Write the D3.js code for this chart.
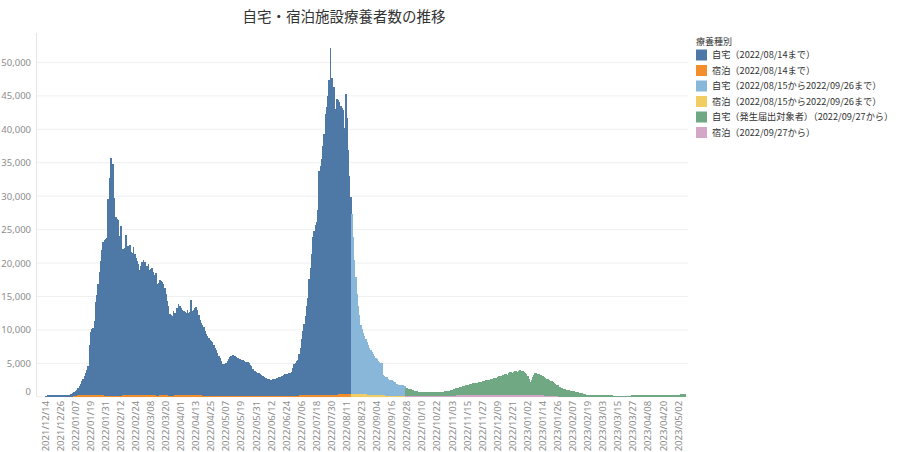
<!DOCTYPE html>
<html><head><meta charset="utf-8">
<script src="https://cdn.jsdelivr.net/npm/d3@7"></script>
<style>body{margin:0;background:#fff}svg{display:block}</style>
</head><body>
<svg id="c" width="900" height="452"></svg>
<script>
const chartTitle = "自宅・宿泊施設療養者数の推移";
const legendTitle = "療養種別";
const startDate = "2021/12/14";
const seriesKeys = ["hotelA","homeA","hotelB","homeB","hotelC","homeC"];
const legendKeys = ["homeA","hotelA","homeB","hotelB","homeC","hotelC"];
const seriesNames = {
  homeA: "自宅（2022/08/14まで）",
  hotelA: "宿泊（2022/08/14まで）",
  homeB: "自宅（2022/08/15から2022/09/26まで）",
  hotelB: "宿泊（2022/08/15から2022/09/26まで）",
  homeC: "自宅（発生届出対象者）（2022/09/27から）",
  hotelC: "宿泊（2022/09/27から）"
};
const seriesColors = {
  homeA: "#4e79a7", hotelA: "#f28e2b", homeB: "#88b7da",
  hotelB: "#f1ce63", homeC: "#70a883", hotelC: "#d4a6c8"
};
const yTicks = [0,5000,10000,15000,20000,25000,30000,35000,40000,45000,50000];
const tickLabels = ["2021/12/14","2021/12/26","2022/01/07","2022/01/19","2022/01/31","2022/02/12","2022/02/24","2022/03/08","2022/03/20","2022/04/01","2022/04/13","2022/04/25","2022/05/07","2022/05/19","2022/05/31","2022/06/12","2022/06/24","2022/07/06","2022/07/18","2022/07/30","2022/08/11","2022/08/23","2022/09/04","2022/09/16","2022/09/28","2022/10/10","2022/10/22","2022/11/03","2022/11/15","2022/11/27","2022/12/09","2022/12/21","2023/01/02","2023/01/14","2023/01/26","2023/02/07","2023/02/19","2023/03/03","2023/03/15","2023/03/27","2023/04/08","2023/04/20","2023/05/02"];

// 2021/12/14 - 2022/08/14
const homeA = [
170,170,175,180,180,185,190,190,195,200,
200,205,210,215,220,225,230,235,250,280,
320,380,450,560,700,850,1100,1350,1600,2000,
2400,2800,3200,3700,4300,7400,9400,9800,10000,11000,
13900,14900,16600,18400,20000,21600,23000,23200,23400,23500,
29400,32500,35600,33700,34600,29600,26700,26400,26200,23800,
25400,21800,21900,22000,23800,22000,22200,22300,21300,21100,
22000,21000,20400,20000,19600,18700,19300,19800,20200,19800,
19300,19200,19500,18700,18800,19000,18300,17900,18200,16700,
16900,17200,17000,16900,16500,15900,15000,14200,13400,12200,
12000,11900,12700,12300,12000,12900,13500,13200,12900,12700,
12500,12400,12200,12600,12200,12300,14100,12500,12700,13000,
13200,12700,12000,11300,10900,10500,10200,9700,9300,9000,
8600,8300,8200,8000,7600,7200,6800,6400,6000,5700,
5200,4800,4700,4700,4900,5200,5500,5800,6000,6100,
6000,5950,5800,5600,5500,5450,5350,5300,5200,5100,
5050,5000,4850,4650,4500,4000,3750,3650,3550,3450,
3350,3200,3100,2950,2800,2700,2600,2550,2500,2400,
2350,2450,2500,2450,2600,2700,2800,2850,2900,3000,
3100,3200,3250,3300,3350,3450,3550,4200,4700,4900,
5100,5300,6200,7100,8400,9500,10600,11800,13200,14500,
17300,19000,21000,23500,24500,25400,25800,27700,33500,34200,
35200,37200,39000,42000,43000,44600,47000,51800,47400,42600,
46000,42700,44200,44000,43600,43000,42700,42400,39800,44800,
41300,36400,32600,29400];
const hotelA = [
20,20,20,20,20,25,25,25,25,25,25,25,30,30,30,30,30,30,30,35,35,40,60,
150,190,230,260,290,310,320,330,330,340,340,330,330,340,350,340,330,330,320,320,310,300,280,
200,190,190,180,180,180,175,175,170,170,170,170,175,180,190,200,220,
320,330,330,330,340,340,330,330,330,330,330,330,330,320,320,320,320,320,310,300,
300,300,300,300,290,280,
190,180,
310,320,320,320,310,300,
200,180,180,170,170,180,200,
320,330,330,330,330,330,330,330,330,330,330,330,320,320,320,310,300,280,
240,220,200,190,180,170,160,160,150,150,
150,150,150,150,145,145,145,140,140,140,
140,140,140,140,140,140,140,140,140,140,
140,140,140,140,140,140,140,140,140,140,
140,140,140,140,140,140,140,140,140,140,
140,140,140,140,140,140,140,140,140,140,
140,140,140,140,145,145,145,150,150,150,
150,155,155,160,160,165,170,175,180,190,
200,220,240,270,
300,310,320,330,330,330,330,330,330,320,300,
230,220,
320,330,330,330,340,340,340,340,340,340,340,340,340,340,350,
420,430,430,440,440,440,440,440,430,420];
// 2022/08/15 - 2022/09/26
const homeB = [
27000,23500,20000,17500,15000,13200,11900,10400,9700,9200,
8700,8300,7800,7400,7000,6700,6400,6100,5800,5500,
5300,5050,4900,4800,4750,3000,2900,2800,2700,2500,
2400,2350,2300,2250,2000,1800,1700,1650,1600,1600,
1580,1550,1500];
const hotelB = [
400,400,400,390,390,380,380,370,370,360,360,350,350,340,340,330,320,
300,290,280,280,270,260,260,250,
200,200,190,190,190,180,180,180,180,170,170,170,170,160,160,160,160,160];
// 2022/09/27 - 2023/05/08
const homeC = [
1150,1100,1050,1000,950,900,820,760,720,680,
640,600,580,560,540,530,520,520,510,520,
530,520,510,520,530,520,520,530,550,570,
600,630,660,690,720,760,820,880,950,1020,
1080,1130,1180,1250,1300,1340,1380,1450,1520,1580,
1620,1680,1720,1780,1820,1750,1850,1900,1950,2000,
2050,2100,2050,2150,2200,2250,2300,2280,2350,2450,
2500,2600,2550,2700,2800,2850,2800,2950,3050,3100,
3200,3050,3300,3400,3450,3350,3500,3550,3600,3500,
3650,3700,3650,3550,3500,3350,3150,2800,2400,1950,
2300,2700,3100,3350,3300,3200,3150,3100,3000,2900,
2800,2650,2550,2450,2350,2250,2150,2000,1900,1800,
1700,1600,1500,1400,1300,1200,1150,1100,1050,1000,
950,900,860,820,780,740,680,620,580,540,
480,430,380,340,300,280,260,240,230,220,
210,200,200,
195,190,190,185,185,180,180,175,175,170,170,170,165,165,160,160,160,155,
140,130,120,120,110,110,120,130,140,
180,200,210,220,230,230,240,240,245,250,
250,250,255,255,260,260,260,260,265,265,
265,270,270,270,270,275,275,275,280,280,
280,285,285,290,290,295,300,300,310,
340,390,420,380,330];
const hotelC = [
160,160,155,155,150,150,150,150,150,150,
150,150,150,150,150,150,150,150,150,150,
150,150,150,150,150,150,150,155,155,160,
160,165,170,170,175,180,180,185,190,190,
195,195,200,200,
200,205,205,210,210,210,215,215,220,220,
220,225,225,230,230,230,235,235,240,240,
240,240,245,245,250,250,250,250,255,255,
255,260,260,260,260,260,260,260,260,260,
260,260,260,260,255,255,255,250,250,250,
250,245,245,240,240,235,235,230,230,225,
225,220,215,210,205,200,195,190,185,180,
175,170,160,150,140,130,120,110,
40,38,36,35,34,33,32,32,31,31,
30,30,30,30,30,30,30,30,30,30,
28,28,28,28,28,28,28,28,28,28,
26,26,26,26,26,26,26,26,26,26,
25,25,25,25,25,25,25,25,25,25,
24,24,24,24,24,24,24,24,24,24,
22,22,22,22,22,22,22,22,22,22,
20,20,20,20,20,20,20,20,20,20,
20,20,20,20,20,20,20,20,20,20,
18,18,18,18,18,18,18,18,18,18,
18,18];

const segments = [
  {keys:["homeA","hotelA"], data:[homeA, hotelA]},
  {keys:["homeB","hotelB"], data:[homeB, hotelB]},
  {keys:["homeC","hotelC"], data:[homeC, hotelC]}
];

const parse = d3.timeParse("%Y/%m/%d");
const fmt = d3.timeFormat("%Y/%m/%d");
const t0 = parse(startDate);
const rows = [];
segments.forEach(seg => {
  const n = seg.data[0].length;
  for (let i = 0; i < n; i++) {
    const r = {date: d3.timeDay.offset(t0, rows.length)};
    seriesKeys.forEach(k => r[k] = 0);
    seg.keys.forEach((k, j) => r[k] = seg.data[j][i]);
    rows.push(r);
  }
});

const svg = d3.select("#c");
const plotL = 36, plotR = 688, plotT = 33, plotB = 396.8;

const x = d3.scaleBand().domain(rows.map(r => fmt(r.date)))
  .range([44.6, 44.6 + rows.length * 1.256]).padding(0);
const y = d3.scaleLinear().domain([0, 54400]).range([plotB, plotT]);

// gridlines
svg.append("g").selectAll("line").data(yTicks).join("line")
  .attr("x1", plotL).attr("x2", plotR)
  .attr("y1", d => y(d)).attr("y2", d => y(d))
  .attr("stroke", "#f0f0f0").attr("stroke-width", 1);
svg.append("line").attr("x1", plotL + 0.5).attr("x2", plotL + 0.5)
  .attr("y1", plotT).attr("y2", plotB).attr("stroke", "#e6e6e6");

// bars
const stacked = d3.stack().keys(seriesKeys)(rows);
const lastKey = fmt(rows[rows.length - 1].date);
svg.append("g").attr("shape-rendering", "crispEdges")
  .selectAll("g").data(stacked).join("g")
  .attr("fill", s => seriesColors[s.key])
  .selectAll("rect").data(s => s.filter(d => d[1] > d[0])).join("rect")
  .attr("x", d => x(fmt(d.data.date)))
  .attr("width", d => x.bandwidth() + (fmt(d.data.date) === lastKey ? 0 : 0.5))
  .attr("y", d => y(d[1]))
  .attr("height", d => y(d[0]) - y(d[1]));

// y axis
const yAxis = svg.append("g").attr("transform", `translate(${plotL},0)`)
  .call(d3.axisLeft(y).tickValues(yTicks).tickFormat(d3.format(",")).tickSize(0).tickPadding(5));
yAxis.select(".domain").remove();
yAxis.selectAll("text").attr("fill", "#8c8c8c")
  .style("font-family", "'Noto Sans', sans-serif").style("font-size", "9.5px");
yAxis.selectAll(".tick").filter(d => d === 0).select("text").attr("dy", "-0.25em");

// x axis
const xAxis = svg.append("g").attr("transform", `translate(0,${plotB})`)
  .call(d3.axisBottom(x).tickValues(tickLabels).tickSize(0));
xAxis.select(".domain").remove();
xAxis.selectAll("text")
  .attr("transform", "rotate(-90)")
  .attr("text-anchor", "end")
  .attr("x", -4).attr("y", 0).attr("dy", "0.35em")
  .attr("fill", "#8c8c8c")
  .style("font-family", "'Noto Sans', sans-serif").style("font-size", "9.5px");

// title
svg.append("text").attr("x", 344).attr("y", 22).attr("text-anchor", "middle")
  .attr("fill", "#333").style("font-family", "'Noto Sans CJK JP', sans-serif")
  .style("font-size", "14.5px").text(chartTitle);

// legend
const lg = svg.append("g").attr("transform", "translate(696,0)");
lg.append("text").attr("x", 0).attr("y", 45).attr("fill", "#333")
  .style("font-family", "'Noto Sans CJK JP', sans-serif").style("font-size", "9px")
  .text(legendTitle);
const items = lg.selectAll("g.item").data(legendKeys).join("g").attr("class", "item")
  .attr("transform", (d, i) => `translate(0,${55 + i * 15.5})`);
items.append("rect").attr("x", 0).attr("y", -5.5).attr("width", 11).attr("height", 11)
  .attr("fill", d => seriesColors[d]);
items.append("text").attr("x", 16).attr("y", 0).attr("dy", "0.35em").attr("fill", "#333")
  .style("font-family", "'Noto Sans CJK JP', sans-serif").style("font-size", "9.2px")
  .text(d => seriesNames[d]);
</script>
</body></html>
